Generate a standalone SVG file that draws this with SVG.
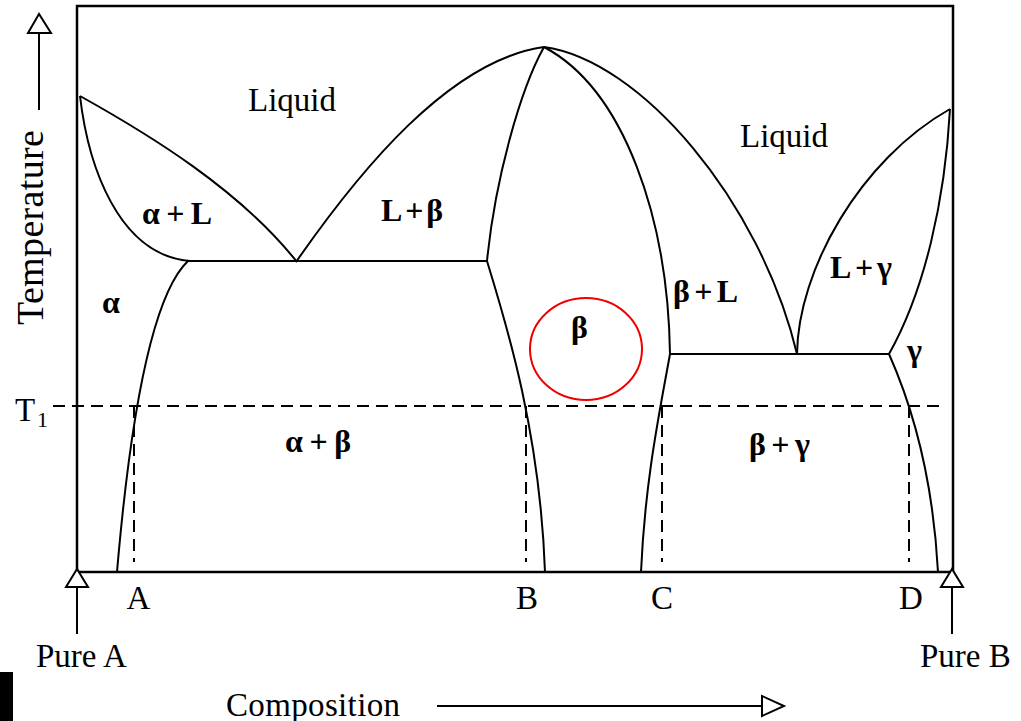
<svg xmlns="http://www.w3.org/2000/svg" width="1021" height="721" viewBox="0 0 1021 721">
<style>
.ln{fill:none;stroke:#000;stroke-width:2}
.fr{fill:none;stroke:#000;stroke-width:2.5}
.dash{fill:none;stroke:#000;stroke-width:2;stroke-dasharray:12 7}
.tri{fill:#fff;stroke:#000;stroke-width:2}
.t{font-family:"Liberation Serif","Times New Roman",serif;fill:#000}
.big{font-size:33px}
.ph{font-size:32px;font-weight:bold}
</style>
<rect width="1021" height="721" fill="#fff"/>
<g id="frame">
<rect class="fr" x="77" y="6" width="876" height="566"/>
</g>
<g id="axes">
<line class="ln" x1="39" y1="110" x2="39" y2="33"/>
<polygon class="tri" points="39,14 28,33 51,33"/>
<line class="ln" x1="77" y1="634" x2="77" y2="587"/>
<polygon class="tri" points="77,569 66,587 88,587"/>
<line class="ln" x1="952" y1="634" x2="952" y2="587"/>
<polygon class="tri" points="952,569 941,587 963,587"/>
<line class="ln" x1="437" y1="706" x2="762" y2="706"/>
<polygon class="tri" points="762,696 762,716 784,706"/>
<rect x="0" y="672" width="13" height="49" fill="#000"/>
</g>
<g id="boundaries">
<path class="ln" d="M80,96 C150,135 240,190 297,262"/>
<path class="ln" d="M80,96 C88,165 118,255 190,261"/>
<path class="ln" d="M188,261 C152,295 130,420 117,572"/>
<path class="ln" d="M188,261 H487"/>
<path class="ln" d="M296,262 C360,170 450,60 544,47"/>
<path class="ln" d="M544,47 C520,90 495,180 487,261"/>
<path class="ln" d="M487,261 C505,320 540,430 545,572"/>
<path class="ln" d="M544,47 C625,90 668,220 670,354"/>
<path class="ln" d="M544,47 C640,60 760,200 797,354"/>
<path class="ln" d="M670,354 C660,410 645,480 641,572"/>
<path class="ln" d="M670,354 H889"/>
<path class="ln" d="M797,354 C798,270 860,160 950,109"/>
<path class="ln" d="M950,109 C945,200 925,290 889,354"/>
<path class="ln" d="M889,354 C905,390 932,460 938,572"/>
</g>
<g id="t1-lines">
<line class="dash" x1="53" y1="406" x2="943" y2="406"/>
<line class="dash" x1="134" y1="406" x2="134" y2="562"/>
<line class="dash" x1="526" y1="406" x2="526" y2="562"/>
<line class="dash" x1="662" y1="406" x2="662" y2="562"/>
<line class="dash" x1="909" y1="406" x2="909" y2="562"/>
</g>
<g id="highlight">
<ellipse cx="586" cy="349" rx="56" ry="51" fill="none" stroke="#e00" stroke-width="2"/>
</g>
<g id="labels">
<text class="t big" x="248" y="111" textLength="88">Liquid</text>
<text class="t big" x="740" y="147" textLength="88">Liquid</text>
<text class="t ph" x="142" y="224" textLength="70">α+L</text>
<text class="t ph" x="381" y="221" textLength="62">L+β</text>
<text class="t ph" x="102" y="313">α</text>
<text class="t ph" x="285" y="452" textLength="66">α+β</text>
<text class="t ph" x="571" y="338">β</text>
<text class="t ph" x="673" y="302" textLength="65">β+L</text>
<text class="t ph" x="830" y="278" textLength="62">L+γ</text>
<text class="t ph" x="907" y="361">γ</text>
<text class="t ph" x="749" y="455" textLength="61">β+γ</text>
<text class="t big" x="15" y="421">T</text>
<text class="t" x="37" y="427" font-size="22">1</text>
<text class="t big" x="138.5" y="609" text-anchor="middle">A</text>
<text class="t big" x="527" y="609" text-anchor="middle">B</text>
<text class="t big" x="662" y="609" text-anchor="middle">C</text>
<text class="t big" x="911" y="609" text-anchor="middle">D</text>
<text class="t big" x="36" y="667">Pure A</text>
<text class="t big" x="920" y="667">Pure B</text>
<text class="t big" x="226" y="716" textLength="174">Composition</text>
<text class="t" font-size="38" transform="translate(43,325) rotate(-90)" textLength="195">Temperature</text>
</g>
</svg>
